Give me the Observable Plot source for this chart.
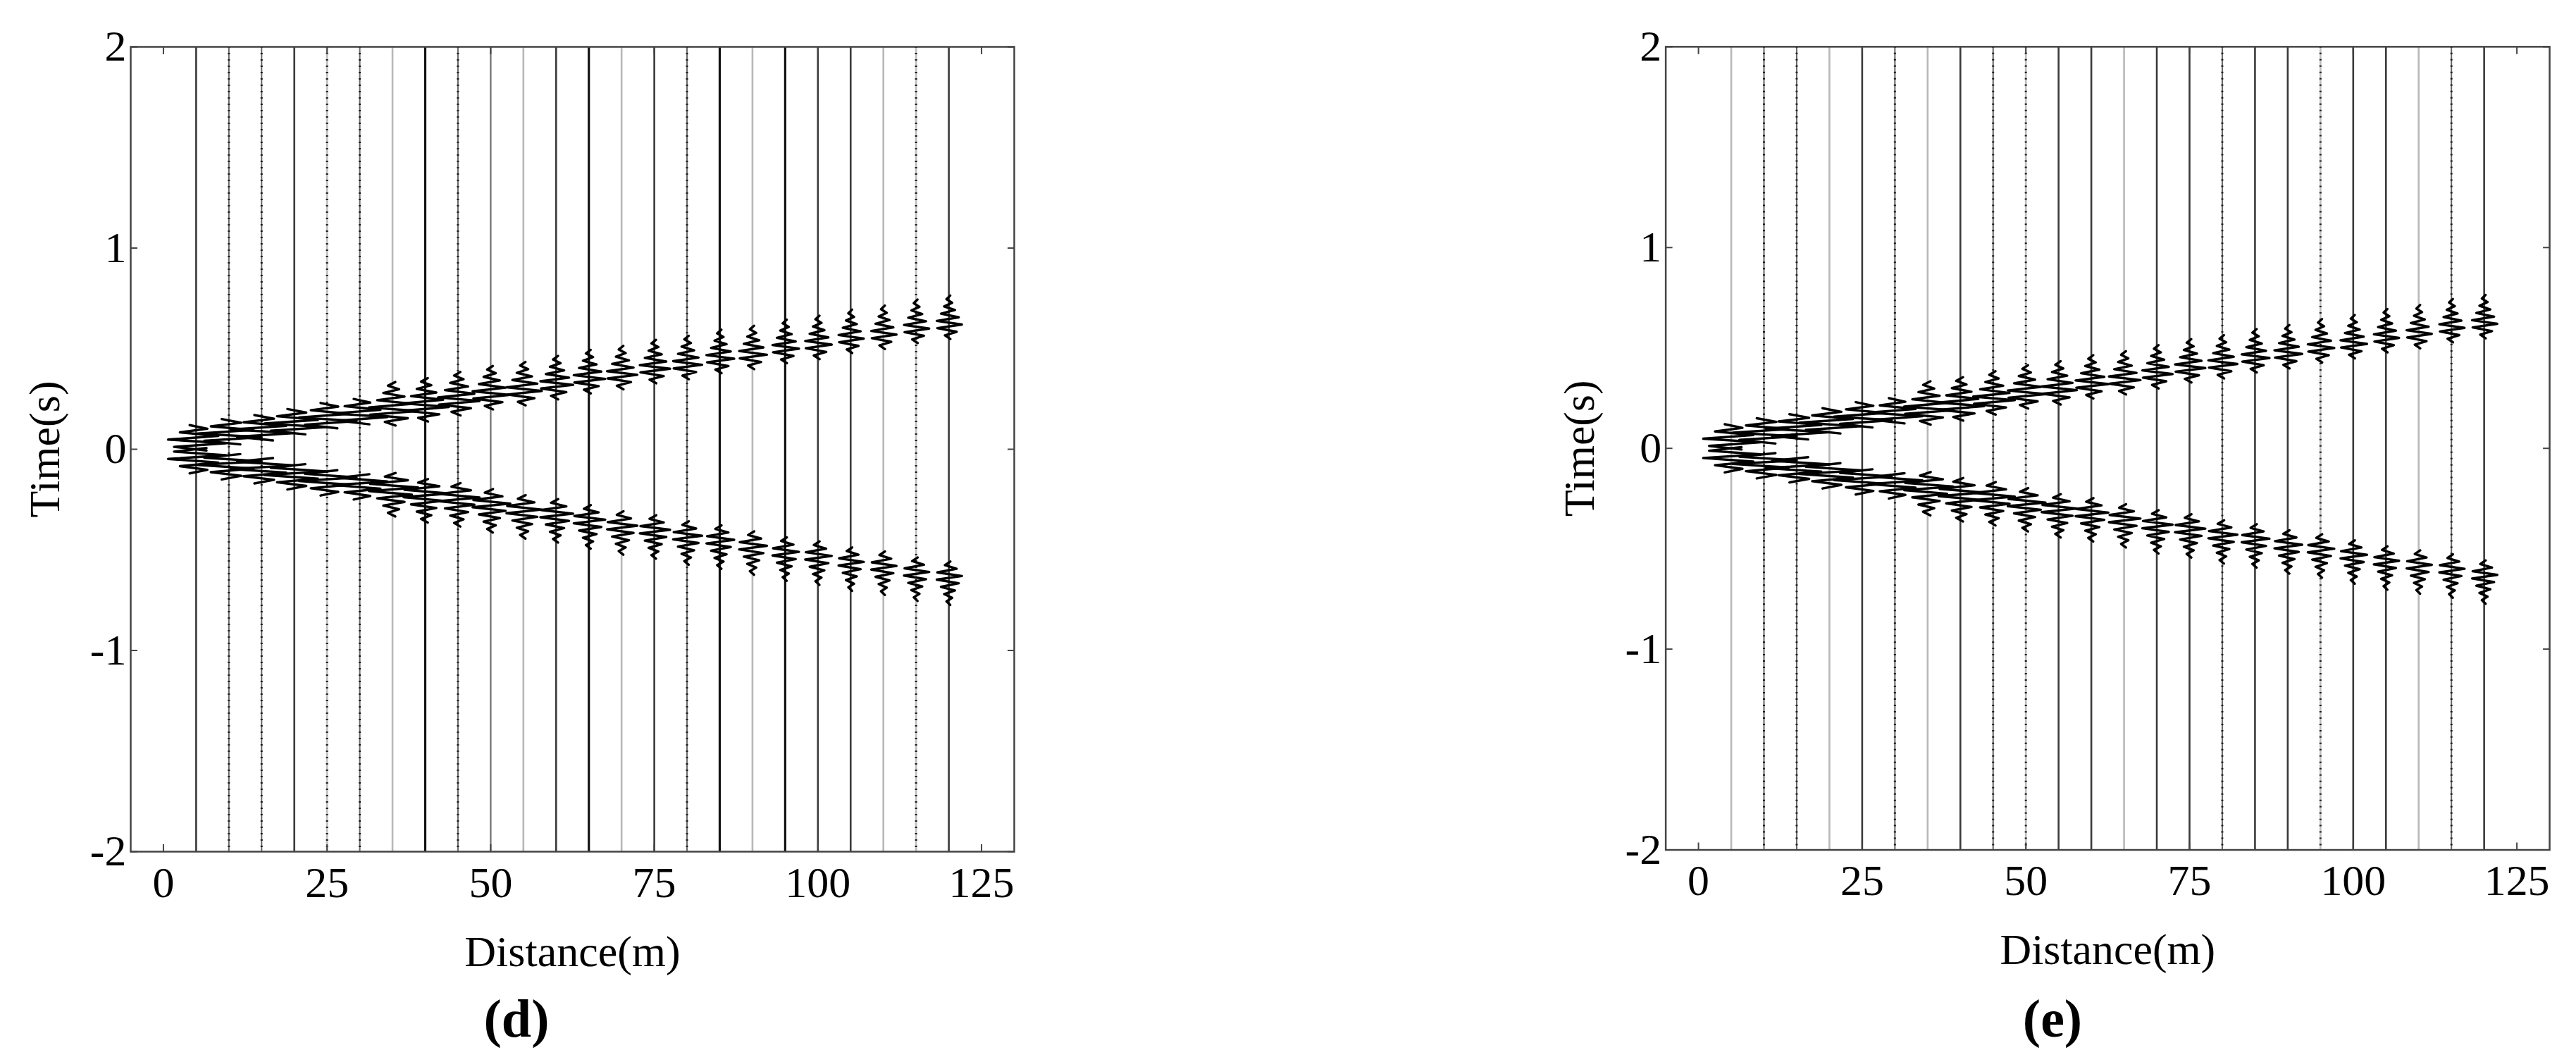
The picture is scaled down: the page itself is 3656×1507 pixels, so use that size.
<!DOCTYPE html>
<html>
<head>
<meta charset="utf-8">
<script src="https://cdn.jsdelivr.net/npm/d3@7"></script>
<script src="https://cdn.jsdelivr.net/npm/@observablehq/plot@0.6"></script>
<style>
html, body { margin: 0; padding: 0; background: #fff; }
#page { position: relative; width: 3656px; height: 1507px; background: #fff; overflow: hidden;
        font-family: "Liberation Serif", "Times New Roman", serif; }
.panel { position: absolute; top: 0; }
.cap { position: absolute; font-weight: bold; font-size: 76px; line-height: 1; white-space: nowrap;
       transform: translateX(-50%); color: #000; }
</style>
</head>
<body>
<div id="page"></div>
<script>
// ---- data ----
const distances = [5, 10, 15, 20, 25, 30, 35, 40, 45, 50, 55, 60, 65, 70, 75, 80, 85, 90, 95, 100, 105, 110, 115, 120];

// arrival times (s) of the causal (upper) and acausal (lower) events, panel (d)
const upperD = [0.03, 0.06, 0.08, 0.11, 0.14, 0.16, 0.19, 0.21, 0.24, 0.27, 0.29, 0.32, 0.35, 0.37, 0.40, 0.42, 0.45, 0.47, 0.50, 0.52, 0.55, 0.57, 0.60, 0.62];
const lowerD = [-0.03, -0.06, -0.08, -0.11, -0.14, -0.16, -0.19, -0.22, -0.24, -0.27, -0.30, -0.32, -0.35, -0.38, -0.40, -0.43, -0.45, -0.48, -0.51, -0.53, -0.56, -0.58, -0.61, -0.63];
// wiggle half-width (m) per trace, panel (d)
const ampD = [4.5, 5.0, 5.0, 4.8, 4.5, 4.2, 3.9, 3.6, 3.3, 3.0, 2.8, 2.6, 2.5, 2.4, 2.4, 2.3, 2.2, 2.2, 2.1, 2.1, 2.0, 2.0, 2.0, 2.0];
// trace line shade, panel (d)
const styleD = ["dark", "noisy", "noisy", "dark", "lightnoisy", "noisy", "light", "black", "noisy", "medium", "light", "dark",
                "black", "light", "dark", "noisy", "black", "light", "black", "dark", "dark", "light", "lightnoisy", "dark"];

// panel (e)
const upperE = [0.03, 0.06, 0.08, 0.11, 0.14, 0.16, 0.19, 0.21, 0.24, 0.27, 0.29, 0.32, 0.34, 0.37, 0.40, 0.42, 0.45, 0.47, 0.50, 0.52, 0.55, 0.57, 0.60, 0.62];
const lowerE = [-0.03, -0.06, -0.08, -0.11, -0.14, -0.16, -0.19, -0.22, -0.24, -0.27, -0.30, -0.32, -0.35, -0.38, -0.40, -0.43, -0.45, -0.48, -0.50, -0.53, -0.56, -0.58, -0.60, -0.63];
const ampE = [4.5, 5.0, 5.0, 4.8, 4.5, 4.2, 3.9, 3.6, 3.3, 3.0, 2.8, 2.6, 2.5, 2.4, 2.4, 2.3, 2.2, 2.2, 2.1, 2.1, 2.0, 2.0, 2.0, 2.0];
const styleE = ["light", "noisy", "noisy", "light", "dark", "noisy", "light", "dark", "noisy", "lightnoisy", "dark", "dark",
                "light", "dark", "dark", "noisy", "dark", "dark", "lightnoisy", "dark", "dark", "light", "noisy", "dark"];

// wavelets: normalised sample values from the arrival outwards (away from t = 0)
const waveletNear = [0.35, -0.75, 1.0, -0.95, 0.75, -0.55, 0.38, -0.22];   // short, used up to 30 m
const waveletNearPeak = 2;
const waveletFar = [0.12, -0.3, 0.6, -0.88, 1.0, -0.92, 0.76, -0.6, 0.47, -0.36, 0.26, -0.18, 0.11]; // longer coda
const waveletFarPeak = 4;
const nearLimit = 30;       // m
const waveletStep = 0.018;  // s between samples

const xTicks = [0, 25, 50, 75, 100, 125];
const yTicks = [-2, -1, 0, 1, 2];
const xDomain = [-5, 130];
const yDomain = [-2, 2];

// ---- styles ----
const shadeColor = {black: "#111111", dark: "#3a3a3a", medium: "#777777", light: "#b8b8b8", noisy: "#666666", lightnoisy: "#bdbdbd"};
const shadeWidth = {black: 3.2, dark: 2.6, medium: 2.4, light: 2.6, noisy: 2.0, lightnoisy: 2.6};

function wavePoints(up, low, amp) {
  const pts = [];
  distances.forEach((d, i) => {
    const w = d <= nearLimit ? waveletNear : waveletFar;
    const p = d <= nearLimit ? waveletNearPeak : waveletFarPeak;
    [[up[i], 1, "u"], [low[i], -1, "l"]].forEach(([t0, dir, b]) => {
      w.forEach((v, k) => {
        pts.push({id: d + b, x: d + amp[i] * v, y: t0 + dir * (k - p) * waveletStep});
      });
    });
  });
  return pts;
}

function panel(up, low, amp, style, svgWidth, marginRight) {
  const traces = distances.map((d, i) => ({d, s: style[i]}));
  const noisy = traces.filter(t => t.s === "noisy" || t.s === "lightnoisy");
  return Plot.plot({
    width: svgWidth,
    height: 1420,
    marginLeft: 185,
    marginRight: marginRight,
    marginTop: 66,
    marginBottom: 212,
    style: {fontFamily: "'Liberation Serif', 'Times New Roman', serif", fontSize: "62px", color: "#000", background: "#fff", overflow: "visible"},
    x: {domain: xDomain},
    y: {domain: yDomain},
    marks: [
      Plot.ruleX(traces, {x: "d", stroke: t => shadeColor[t.s], strokeWidth: t => shadeWidth[t.s]}),
      Plot.ruleX(noisy, {x: "d", stroke: "#1a1a1a", strokeWidth: 3, strokeDasharray: "2 7"}),
      Plot.line(wavePoints(up, low, amp), {x: "x", y: "y", z: "id", stroke: "#000", strokeWidth: 3.4, strokeLinejoin: "round"}),
      Plot.frame({stroke: "#444", strokeWidth: 2.5}),
      Plot.axisX({anchor: "bottom", ticks: xTicks, tickSize: -10, tickPadding: 30, stroke: "#444", strokeWidth: 2,
                  tickFormat: d => String(d), label: "Distance(m)", labelAnchor: "center", labelOffset: 162, labelArrow: "none"}),
      Plot.axisX({anchor: "top", ticks: xTicks, tickSize: -10, stroke: "#444", strokeWidth: 2, tickFormat: () => "", label: null}),
      Plot.axisY({anchor: "left", ticks: yTicks, tickSize: -10, tickPadding: 16, stroke: "#444", strokeWidth: 2,
                  tickFormat: d => String(d), label: "Time(s)", labelAnchor: "center", labelOffset: 146, labelArrow: "none"}),
      Plot.axisY({anchor: "right", ticks: yTicks, tickSize: -10, stroke: "#444", strokeWidth: 2, tickFormat: () => "", label: null})
    ]
  });
}

const page = document.getElementById("page");

const pd = document.createElement("div");
pd.className = "panel"; pd.style.left = "0px";
pd.appendChild(panel(upperD, lowerD, ampD, styleD, 1480, 41));
page.appendChild(pd);

const pe = document.createElement("div");
pe.className = "panel"; pe.style.left = "2179px";
pe.appendChild(panel(upperE, lowerE, ampE, styleE, 1480, 38));
page.appendChild(pe);

const capD = document.createElement("div");
capD.className = "cap"; capD.style.left = "733px"; capD.style.top = "1407px"; capD.textContent = "(d)";
page.appendChild(capD);

const capE = document.createElement("div");
capE.className = "cap"; capE.style.left = "2913px"; capE.style.top = "1407px"; capE.textContent = "(e)";
page.appendChild(capE);
</script>
</body>
</html>
